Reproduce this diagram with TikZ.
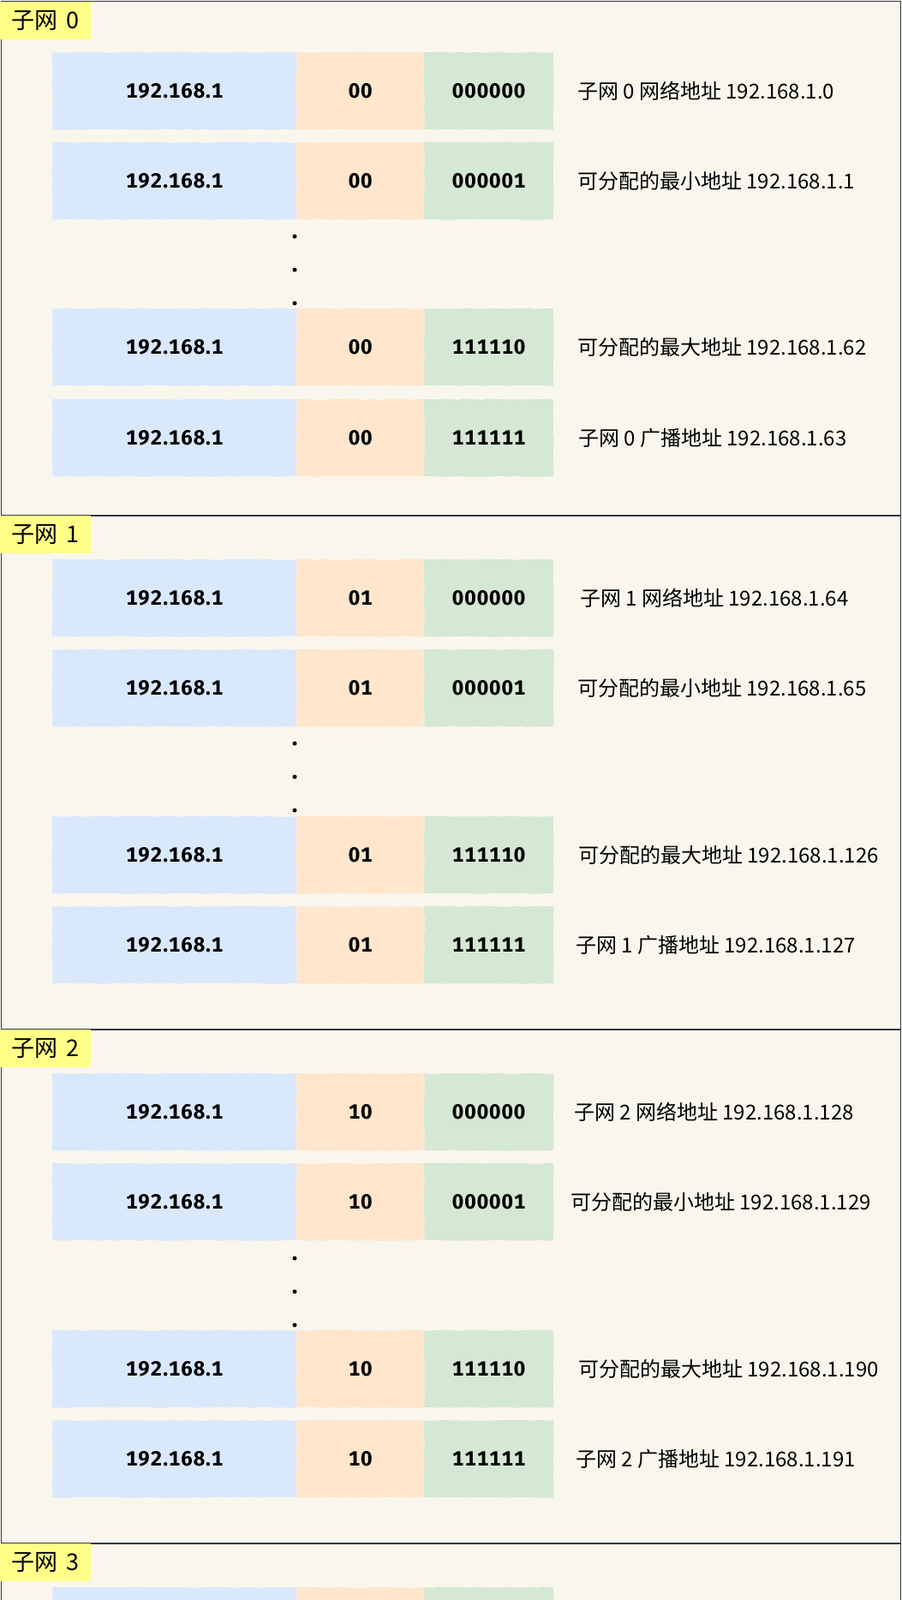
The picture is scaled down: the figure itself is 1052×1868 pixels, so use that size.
\documentclass[tikz,border=0pt]{standalone}
\usepackage{fontspec}
\usetikzlibrary{decorations.pathmorphing}
\newfontfamily\cjk{Noto Sans CJK SC}
\newfontfamily\boxfont{Fira Sans}[Numbers=Monospaced, LetterSpace=4]
\definecolor{bgc}{HTML}{F9F7ED}
\definecolor{frm}{HTML}{36393D}
\definecolor{netc}{HTML}{DAE8FC}
\definecolor{subc}{HTML}{FFE6CC}
\definecolor{hostc}{HTML}{D5E8D4}
\definecolor{tagc}{HTML}{FFFF88}
\newcommand{\myrow}[6]{%
  \node[netbox, anchor=north west] (#1a) at (61,#2) {192.168.1};
  \node[subbox, anchor=north west] (#1b) at (346,#2) {#3};
  \node[hostbox, anchor=north west] (#1c) at (495,#2) {#4};
  \node[desc, anchor=west] (#1d) at (#6,#2+45) {#5};
}
\newcommand{\mydots}[2]{%
  \node[dotmark] (#1x) at (344,#2) {};
  \node[dotmark] (#1y) at (344,#2+39) {};
  \node[dotmark] (#1z) at (344,#2+78) {};
}
\begin{document}
\begin{tikzpicture}[x=1pt,y=-1pt,
  sketchy/.style={decorate, decoration={random steps, segment length=7pt, amplitude=0.6pt}},
  cell/.style={inner sep=0pt, minimum height=90pt, text=black,
    font=\boxfont\bfseries\fontsize{24pt}{28pt}\selectfont, sketchy},
  netbox/.style={cell, fill=netc, minimum width=285pt},
  subbox/.style={cell, fill=subc, minimum width=149pt},
  hostbox/.style={cell, fill=hostc, minimum width=151pt},
  desc/.style={inner sep=0pt, font=\cjk\fontsize{24pt}{28pt}\selectfont, text=black},
  dotmark/.style={circle, fill=black, inner sep=0pt, minimum size=5pt},
  tag/.style={fill=tagc, inner sep=0pt, minimum width=106pt, minimum height=44pt,
    font=\cjk\fontsize{27pt}{31pt}\selectfont, text=black},
  framebox/.style={draw=frm, line width=1.5pt, fill=bgc}
]
\useasboundingbox (0,0) rectangle (1052,1868);
\clip (0,0) rectangle (1052,1868);
\fill[bgc] (0,0) rectangle (1052,1868);

% frames
\node[framebox, anchor=north west, minimum width=1050pt, minimum height=600pt, inner sep=0pt] (fr0) at (0.75,1) {};
\node[framebox, anchor=north west, minimum width=1050pt, minimum height=600pt, inner sep=0pt] (fr1) at (0.75,601) {};
\node[framebox, anchor=north west, minimum width=1050pt, minimum height=600pt, inner sep=0pt] (fr2) at (0.75,1201) {};
\node[framebox, anchor=north west, minimum width=1050pt, minimum height=600pt, inner sep=0pt] (fr3) at (0.75,1801) {};

% tags
\node[tag, anchor=north west] (t0) at (0,1.75) {子网\hspace{4pt} 0};
\node[tag, anchor=north west] (t1) at (0,601.75) {子网\hspace{4pt} 1};
\node[tag, anchor=north west] (t2) at (0,1201.75) {子网\hspace{4pt} 2};
\node[tag, anchor=north west] (t3) at (0,1801.75) {子网\hspace{4pt} 3};

% subnet 0
\myrow{s0r1}{61}{00}{000000}{子网 0 网络地址 192.168.1.0}{674}
\myrow{s0r2}{166}{00}{000001}{可分配的最小地址 192.168.1.1}{674}
\mydots{s0}{276}
\myrow{s0r3}{360}{00}{111110}{可分配的最大地址 192.168.1.62}{674}
\myrow{s0r4}{466}{00}{111111}{子网 0 广播地址 192.168.1.63}{675}

% subnet 1
\myrow{s1r1}{653}{01}{000000}{子网 1 网络地址 192.168.1.64}{677}
\myrow{s1r2}{758}{01}{000001}{可分配的最小地址 192.168.1.65}{674}
\mydots{s1}{868}
\myrow{s1r3}{953}{01}{111110}{可分配的最大地址 192.168.1.126}{675}
\myrow{s1r4}{1058}{01}{111111}{子网 1 广播地址 192.168.1.127}{672}

% subnet 2
\myrow{s2r1}{1253}{10}{000000}{子网 2 网络地址 192.168.1.128}{670}
\myrow{s2r2}{1358}{10}{000001}{可分配的最小地址 192.168.1.129}{666}
\mydots{s2}{1469}
\myrow{s2r3}{1553}{10}{111110}{可分配的最大地址 192.168.1.190}{675}
\myrow{s2r4}{1658}{10}{111111}{子网 2 广播地址 192.168.1.191}{672}

% subnet 3 (cut off)
\node[netbox, anchor=north west] (s3r1a) at (61,1853) {};
\node[subbox, anchor=north west] (s3r1b) at (346,1853) {};
\node[hostbox, anchor=north west] (s3r1c) at (495,1853) {};
\end{tikzpicture}
\end{document}
